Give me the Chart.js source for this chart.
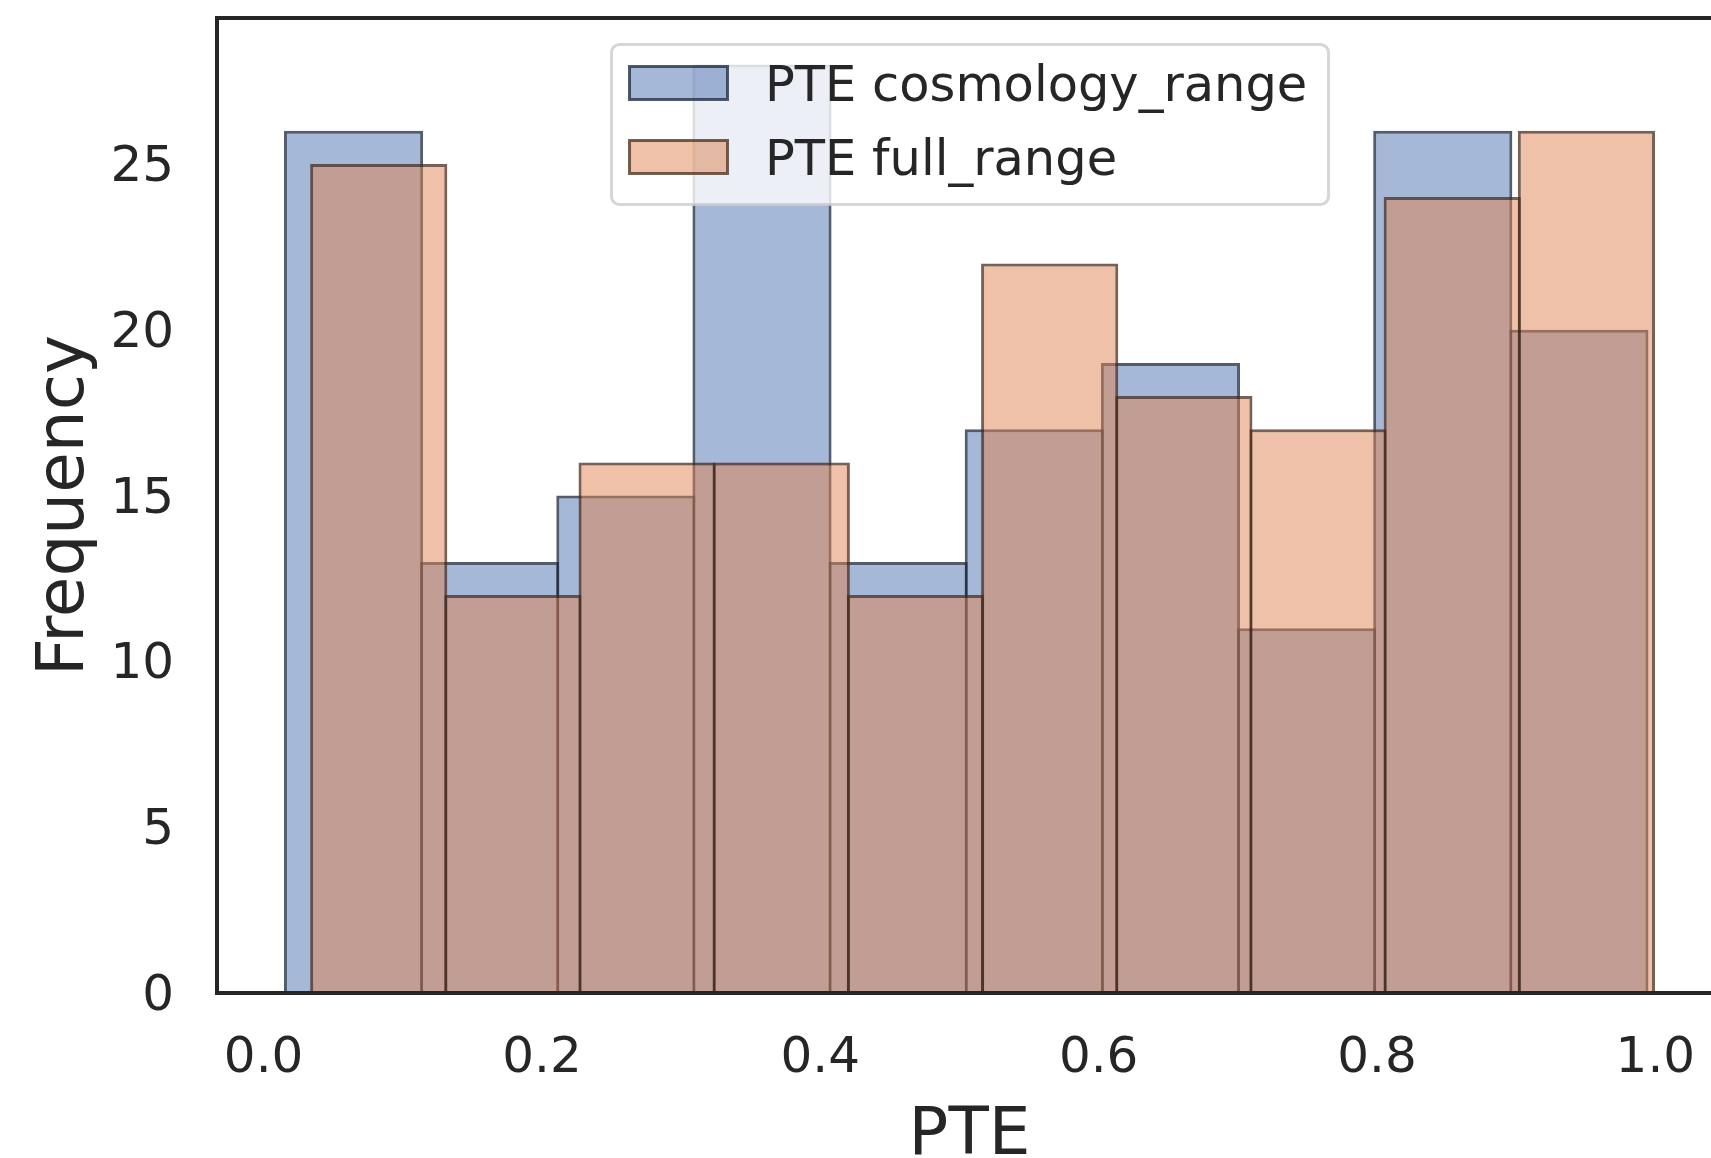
<!DOCTYPE html>
<html>
<head>
<meta charset="utf-8">
<title>PTE histogram</title>
<script src="https://cdn.jsdelivr.net/npm/chart.js@4.4.1/dist/chart.umd.min.js"></script>
<style>
  html, body { margin: 0; padding: 0; overflow: hidden; background: #ffffff; }
  canvas { display: block; }
</style>
</head>
<body>
<canvas id="hist" width="1740" height="1158"></canvas>
<script>
// Histogram counts per bin (10 equal-width bins per series)
const seriesNames = ['PTE cosmology_range', 'PTE full_range'];
const cosmologyCounts = [26, 13, 15, 28, 13, 17, 19, 11, 26, 20];
const fullRangeCounts = [25, 12, 16, 16, 12, 22, 18, 17, 24, 26];
// first and last bin edge of each series
const cosmologyBinRange = [0.0157, 0.9940];
const fullRangeBinRange = [0.0345, 0.9987];
// axes
const xTickValues = [0.0, 0.2, 0.4, 0.6, 0.8, 1.0];
const yTickValues = [0, 5, 10, 15, 20, 25];
const xLimits = [-0.0335, 1.0479];
const yLimits = [0, 29.4];

const INK = '#262626';
const FONT = 'DejaVu Sans';
const EDGE = 3;

function binPoints(counts, range) {
  const w = (range[1] - range[0]) / counts.length;
  return counts.map((c, i) => ({ x: range[0] + w * (i + 0.5), y: c }));
}
function binWidth(counts, range) {
  return (range[1] - range[0]) / counts.length;
}
// bar width in pixels = bin width on the x scale (edge centred on the bin boundary)
function thickness(ctx) {
  const s = ctx.chart.scales.x;
  const w = ctx.dataset.binWidth;
  return Math.abs(s.getPixelForValue(w) - s.getPixelForValue(0)) + EDGE;
}

const styles = [
  { fill: 'rgba(76,114,176,0.5)', edge: 'rgba(26,38,59,0.75)' },
  { fill: 'rgba(221,132,82,0.5)', edge: 'rgba(74,44,27,0.75)' }
];

const framePlugin = {
  id: 'frame',
  afterDatasetsDraw(chart) {
    const { ctx, chartArea: a } = chart;
    ctx.save();
    ctx.strokeStyle = INK;
    ctx.lineWidth = 4;
    ctx.beginPath();
    ctx.moveTo(a.left - 2, a.top);
    ctx.lineTo(a.right, a.top);
    ctx.lineTo(a.right, a.bottom + 2);
    ctx.stroke();
    ctx.restore();
  }
};

const boxLegend = {
  id: 'boxLegend',
  afterDraw(chart, args, o) {
    const ctx = chart.ctx;
    ctx.save();
    ctx.beginPath();
    ctx.roundRect(o.x, o.y, o.w, o.h, o.radius);
    ctx.fillStyle = 'rgba(255,255,255,0.8)';
    ctx.fill();
    ctx.lineWidth = 3;
    ctx.strokeStyle = 'rgba(204,204,204,0.8)';
    ctx.stroke();
    ctx.font = o.fontSize + 'px "' + FONT + '"';
    ctx.textBaseline = 'alphabetic';
    ctx.textAlign = 'left';
    chart.data.datasets.forEach((ds, i) => {
      const top = o.handleTop + i * o.rowStep;
      ctx.fillStyle = ds.backgroundColor;
      ctx.fillRect(o.handleX, top, o.handleW, o.handleH);
      ctx.strokeStyle = ds.borderColor;
      ctx.lineWidth = 3;
      ctx.strokeRect(o.handleX, top, o.handleW, o.handleH);
      ctx.fillStyle = INK;
      ctx.fillText(ds.label, o.textX, o.baseline + i * o.rowStep);
    });
    ctx.restore();
  }
};

new Chart(document.getElementById('hist'), {
  type: 'bar',
  data: {
    datasets: [
      {
        label: seriesNames[0],
        data: binPoints(cosmologyCounts, cosmologyBinRange),
        binWidth: binWidth(cosmologyCounts, cosmologyBinRange),
        backgroundColor: styles[0].fill,
        borderColor: styles[0].edge,
        borderWidth: EDGE,
        order: 2
      },
      {
        label: seriesNames[1],
        data: binPoints(fullRangeCounts, fullRangeBinRange),
        binWidth: binWidth(fullRangeCounts, fullRangeBinRange),
        backgroundColor: styles[1].fill,
        borderColor: styles[1].edge,
        borderWidth: EDGE,
        order: 1
      }
    ]
  },
  options: {
    responsive: false,
    animation: false,
    devicePixelRatio: 1,
    datasets: {
      bar: {
        grouped: false,
        barThickness: thickness,
        inflateAmount: 0,
        borderSkipped: 'start'
      }
    },
    layout: { padding: { left: 0, top: 18, right: 18, bottom: 0 } },
    plugins: {
      legend: { display: false },
      tooltip: { enabled: false },
      boxLegend: {
        x: 611.5, y: 44.5, w: 717, h: 160, radius: 8,
        handleX: 629.5, handleTop: 66.5, handleW: 98, handleH: 33,
        rowStep: 74, textX: 765, baseline: 101, fontSize: 49.5
      }
    },
    scales: {
      x: {
        type: 'linear',
        offset: false,
        min: xLimits[0],
        max: xLimits[1],
        afterBuildTicks: s => { s.ticks = xTickValues.map(v => ({ value: v })); },
        afterFit: s => {
          s.height = 165;
          s.paddingLeft = 0; s.paddingRight = 0; s.paddingTop = 0; s.paddingBottom = 0;
        },
        grid: { display: false, drawTicks: false },
        border: { display: true, color: INK, width: 4, z: 1 },
        ticks: {
          color: INK,
          font: { family: FONT, size: 50 },
          padding: 36,
          maxRotation: 0,
          autoSkip: false,
          callback: v => Number(v).toFixed(1)
        },
        title: {
          display: true,
          text: 'PTE',
          color: INK,
          font: { family: FONT, size: 66 },
          padding: { top: 0, bottom: -18 }
        }
      },
      y: {
        type: 'linear',
        min: yLimits[0],
        max: yLimits[1],
        afterBuildTicks: s => { s.ticks = yTickValues.map(v => ({ value: v })); },
        afterFit: s => {
          s.width = 217;
          s.paddingLeft = 0; s.paddingRight = 0; s.paddingTop = 0; s.paddingBottom = 0;
        },
        grid: { display: false, drawTicks: false },
        border: { display: true, color: INK, width: 4, z: 1 },
        ticks: {
          color: INK,
          font: { family: FONT, size: 50 },
          padding: 43,
          labelOffset: 4,
          callback: v => String(v)
        },
        title: {
          display: true,
          text: 'Frequency',
          color: INK,
          font: { family: FONT, size: 66 },
          padding: { top: 26, bottom: 0 }
        }
      }
    }
  },
  plugins: [framePlugin, boxLegend]
});
</script>
</body>
</html>
